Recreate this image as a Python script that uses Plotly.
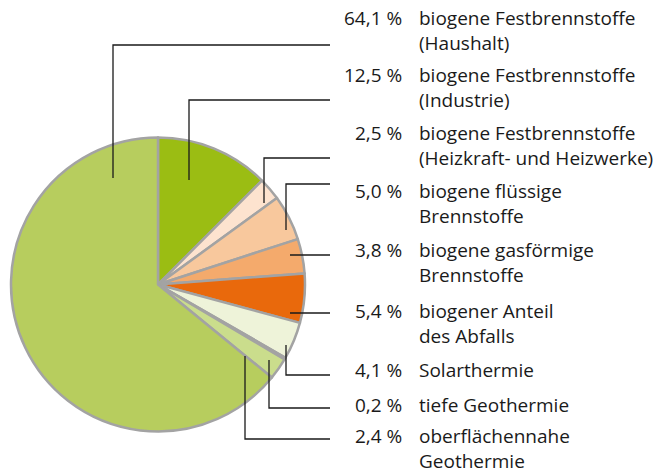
import plotly.graph_objects as go

# ---- data (legend order) ----
percents = [64.1, 12.5, 2.5, 5.0, 3.8, 5.4, 4.1, 0.2, 2.4]
percent_labels = ["64,1 %", "12,5 %", "2,5 %", "5,0 %", "3,8 %", "5,4 %", "4,1 %", "0,2 %", "2,4 %"]
names = [
    "biogene Festbrennstoffe\n(Haushalt)",
    "biogene Festbrennstoffe\n(Industrie)",
    "biogene Festbrennstoffe\n(Heizkraft- und Heizwerke)",
    "biogene flüssige\nBrennstoffe",
    "biogene gasförmige\nBrennstoffe",
    "biogener Anteil\ndes Abfalls",
    "Solarthermie",
    "tiefe Geothermie",
    "oberflächennahe\nGeothermie",
]
colors = ["#b7cd5e", "#9bbd13", "#fde3cf", "#f8c89d", "#f4aa6c",
          "#e9690c", "#eef3d9", "#dde8b3", "#cadd8c"]

# ---- layout geometry (pixels) ----
W, H = 661, 473
cx, cy, R = 158, 284.5, 147
label_first_y = [18, 75, 133, 191, 250, 311, 370, 405, 436]
line_gap = 25
# leader anchors inside the slices and the y of the horizontal segment
anchors = [(113, 178, 45), (189, 180, 100), (264, 203, 158), (286, 230, 184),
           (290, 255, 255), (290, 313, 313), (286, 345, 375), (269, 360, 408),
           (245, 356, 439)]
line_end_x = 330
pct_right_x = 403
name_left_x = 418
font_family = "Open Sans, Noto Sans, sans-serif"
fsize_pct = 19
fsize_name = 19

# pie drawn clockwise starting at 12 o'clock with the second item first
order = list(range(1, len(percents))) + [0]

fig = go.Figure()
fig.add_trace(go.Pie(
    values=[percents[i] for i in order],
    labels=[names[i].replace("\n", " ") for i in order],
    marker=dict(colors=[colors[i] for i in order], line=dict(color="#a3a3a3", width=2.5)),
    sort=False, direction="clockwise", rotation=0,
    textinfo="none", hoverinfo="label+value", showlegend=False,
    domain=dict(x=[(cx - R) / W, (cx + R) / W], y=[1 - (cy + R) / H, 1 - (cy - R) / H]),
))

# invisible pixel axis for leaders/text
fig.add_trace(go.Scatter(x=[0, W], y=[0, H], mode="markers", marker=dict(opacity=0),
                         hoverinfo="skip", showlegend=False))

for (ax, ay, ly) in anchors:
    fig.add_shape(type="path", xref="x", yref="y",
                  path=f"M {ax} {ay} L {ax} {ly} L {line_end_x} {ly}",
                  line=dict(color="#1a1a1a", width=1.3))

for i, (p, n) in enumerate(zip(percent_labels, names)):
    y0 = label_first_y[i]
    fig.add_annotation(x=pct_right_x, y=y0, xref="x", yref="y", text=p, showarrow=False,
                       xanchor="right", yanchor="middle", borderpad=0,
                       font=dict(family=font_family, size=fsize_pct, color="#1a1a1a"))
    for k, part in enumerate(n.split("\n")):
        fig.add_annotation(x=name_left_x, y=y0 + k * line_gap, xref="x", yref="y", text=part,
                           showarrow=False, xanchor="left", yanchor="middle", borderpad=0,
                           font=dict(family=font_family, size=fsize_name, color="#1a1a1a"))

fig.update_layout(
    width=W, height=H, margin=dict(l=0, r=0, t=0, b=0),
    paper_bgcolor="white", plot_bgcolor="rgba(0,0,0,0)",
    xaxis=dict(range=[0, W], visible=False, fixedrange=True),
    yaxis=dict(range=[H, 0], visible=False, fixedrange=True),
)
fig.write_html("out.html", config={"displayModeBar": False},
               post_script="document.body.style.margin='0';document.body.style.overflow='hidden';")
